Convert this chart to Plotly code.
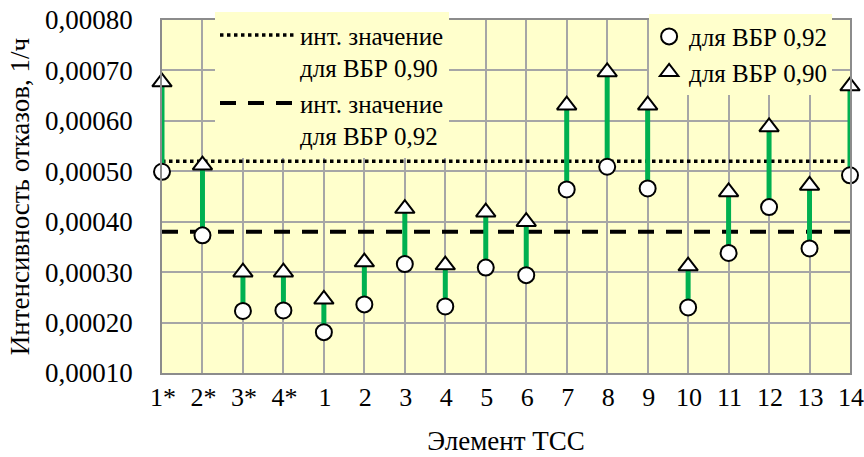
import plotly.graph_objects as go

# ---------------- data ----------------
categories = ["1*", "2*", "3*", "4*", "1", "2", "3", "4", "5", "6",
              "7", "8", "9", "10", "11", "12", "13", "14"]
rate_vbr_092 = [0.000499, 0.000373, 0.000223, 0.000224, 0.000181, 0.000236,
                0.000316, 0.000232, 0.000309, 0.000294, 0.000464, 0.000509,
                0.000466, 0.000230, 0.000338, 0.000429, 0.000347, 0.000492]
rate_vbr_090 = [0.000677, 0.000512, 0.000300, 0.000300, 0.000246, 0.000320,
                0.000426, 0.000314, 0.000419, 0.000400, 0.000631, 0.000697,
                0.000631, 0.000312, 0.000459, 0.000588, 0.000472, 0.000669]
int_value_vbr_090 = 0.00052
int_value_vbr_092 = 0.00038
y_tick_values = [0.0001, 0.0002, 0.0003, 0.0004, 0.0005, 0.0006, 0.0007, 0.0008]

FONT = "Liberation Serif, Times New Roman, DejaVu Serif, serif"
BG = "#FFFFCC"
GRID = "#A6A6A6"

fig = go.Figure()

# reference (interval) lines
fig.add_trace(go.Scatter(
    x=[categories[0], categories[-1]], y=[int_value_vbr_090] * 2,
    mode="lines", line=dict(color="black", width=3.5, dash="dot"),
    name="инт. значение<br>для ВБР 0,90", legend="legend", cliponaxis=False))
fig.add_trace(go.Scatter(
    x=[categories[0], categories[-1]], y=[int_value_vbr_092] * 2,
    mode="lines", line=dict(color="black", width=4, dash="16px,12px"),
    name="инт. значение<br>для ВБР 0,92", legend="legend", cliponaxis=False))

# stems between the two values
sx, sy = [], []
for c, a, b in zip(categories, rate_vbr_092, rate_vbr_090):
    sx += [c, c, None]
    sy += [a, b, None]
fig.add_trace(go.Scatter(x=sx, y=sy, mode="lines",
                         line=dict(color="#00B050", width=5),
                         showlegend=False, hoverinfo="skip", cliponaxis=False))

# markers
fig.add_trace(go.Scatter(
    x=categories, y=rate_vbr_092, mode="markers", name="для ВБР 0,92",
    marker=dict(symbol="circle", size=16, color="white",
                line=dict(color="black", width=2)),
    legend="legend2", cliponaxis=False))
fig.add_trace(go.Scatter(
    x=categories, y=rate_vbr_090, mode="markers", name="для ВБР 0,90",
    marker=dict(symbol="triangle-up", size=17, color="white",
                line=dict(color="black", width=2)),
    legend="legend2", cliponaxis=False))

fig.update_layout(
    width=864, height=457,
    margin=dict(l=162, r=14, t=20, b=84, autoexpand=False),
    paper_bgcolor="white", plot_bgcolor=BG,
    separators=", ",
    font=dict(family=FONT, size=27, color="black"),
    legend=dict(x=0.077, y=1.022, xanchor="left", yanchor="top",
                bgcolor=BG, borderwidth=0, valign="top",
                font=dict(family=FONT, size=25), itemwidth=75,
                tracegroupgap=0),
    legend2=dict(x=0.708, y=1.018, xanchor="left", yanchor="top",
                 bgcolor=BG, borderwidth=0,
                 font=dict(family=FONT, size=25), itemwidth=30),
    xaxis=dict(type="category", categoryorder="array", categoryarray=categories,
               range=[0, len(categories) - 1], automargin=False,
               showgrid=True, gridcolor=GRID, gridwidth=1.5,
               showline=True, linecolor="#8C8C8C", linewidth=1.5, mirror=True,
               ticks="", ticklabelstandoff=0, ticklabelshift=1,
               tickfont=dict(family=FONT, size=26),
               title=dict(text="Элемент ТСС", standoff=20,
                          font=dict(family=FONT, size=27)),
               zeroline=False),
    yaxis=dict(range=[0.0001, 0.0008], tickvals=y_tick_values,
               tickformat=".5f", automargin=False,
               showgrid=True, gridcolor=GRID, gridwidth=1.5,
               showline=True, linecolor="#8C8C8C", linewidth=1.5, mirror=True,
               ticks="", ticklabelstandoff=22,
               tickfont=dict(family=FONT, size=27),
               title=dict(text="Интенсивность отказов, 1/ч", standoff=8,
                          font=dict(family=FONT, size=27)),
               zeroline=False),
)

fig.write_html("out.html",
               config={"displayModeBar": False},
               post_script="document.body.style.margin='0px';"
                           "document.body.style.padding='0px';")
